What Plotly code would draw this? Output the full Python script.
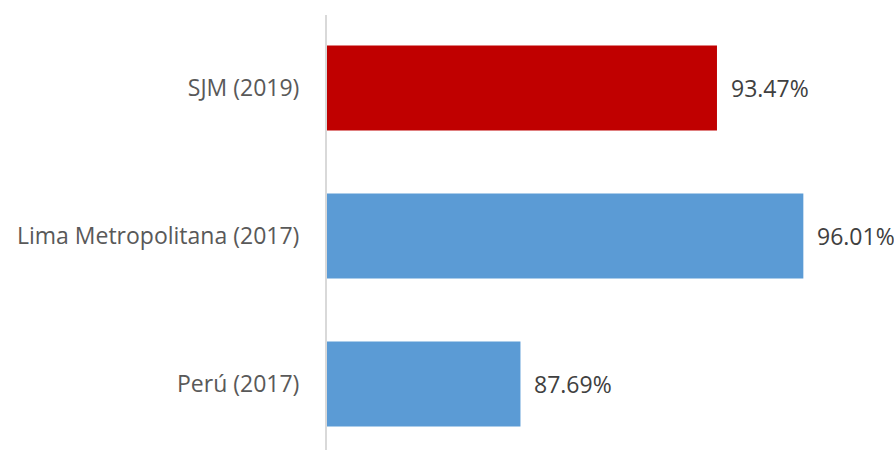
import plotly.graph_objects as go

# Coverage by area (percent)
categories = ["Perú (2017)", "Lima Metropolitana (2017)", "SJM (2019)"]
values = [87.69, 96.01, 93.47]
bar_colors = ["#5B9BD5", "#5B9BD5", "#C00000"]
value_labels = [f"{v:.2f}%" for v in values]

positions = list(range(len(categories)))
FONT = "Open Sans, sans-serif"

fig = go.Figure()
fig.add_trace(go.Bar(
    x=values,
    y=positions,
    orientation="h",
    width=0.575,
    marker=dict(color=bar_colors, line=dict(width=0)),
    hoverinfo="skip",
))

for pos, val, lab in zip(positions, values, value_labels):
    fig.add_annotation(
        x=val, y=pos, text=lab, showarrow=False,
        xanchor="left", yanchor="middle", xshift=12,
        font=dict(family=FONT, size=23, color="#404040"),
    )

fig.update_layout(
    width=894, height=450,
    margin=dict(l=327, r=23, t=15, b=0),
    paper_bgcolor="white", plot_bgcolor="white",
    showlegend=False,
    font=dict(family=FONT, size=23, color="#595959"),
    xaxis=dict(range=[82, 98], visible=False, showgrid=False, zeroline=False),
    yaxis=dict(
        range=[-0.446, 2.493],
        tickmode="array", tickvals=positions, ticktext=categories,
        showgrid=False, zeroline=False,
        showline=True, linecolor="#D9D9D9", linewidth=2,
        ticks="", ticklabelstandoff=21,
        tickfont=dict(family=FONT, size=23, color="#595959"),
    ),
)

fig.write_html("out.html")
